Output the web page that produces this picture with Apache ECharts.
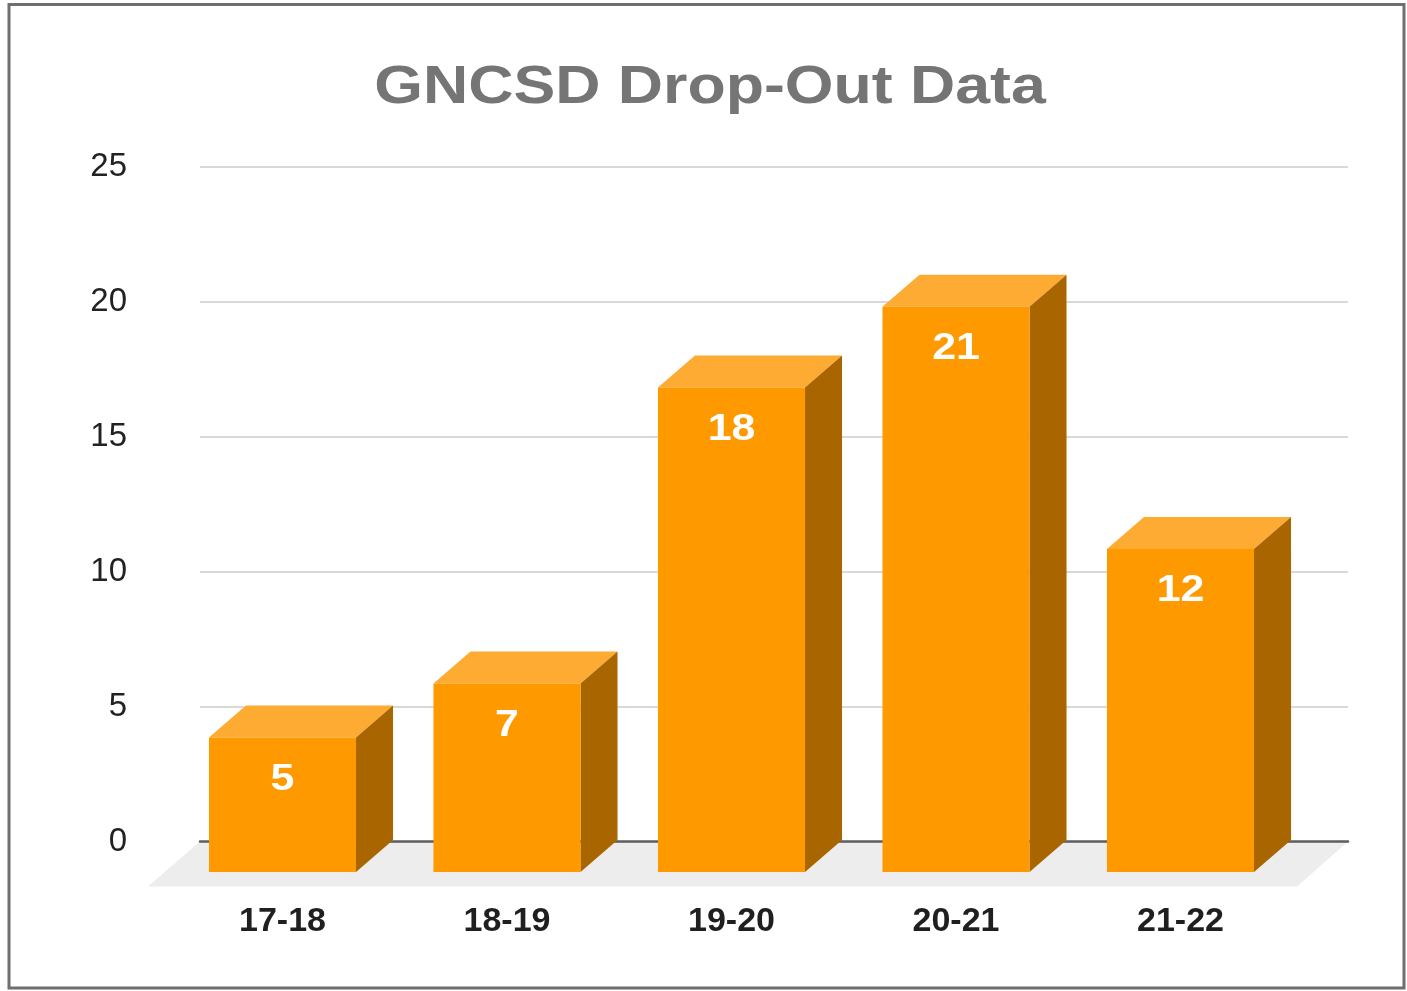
<!DOCTYPE html>
<html>
<head>
<meta charset="utf-8">
<script src="https://cdn.jsdelivr.net/npm/echarts@6/dist/echarts.min.js"></script>
<style>
  html, body { margin: 0; padding: 0; background: #fff; }
  #dropOutChart { width: 1407px; height: 991px; }
</style>
</head>
<body>
<div id="dropOutChart"></div>
<script>
const schoolYears = ['17-18', '18-19', '19-20', '20-21', '21-22'];
const dropOuts = [5, 7, 18, 21, 12];
const yTicks = [0, 5, 10, 15, 20, 25];
const chartTitle = 'GNCSD Drop-Out Data';

// box faces
const frontColor = '#ff9900';
const topColor = '#fdab33';
const sideColor = '#a86500';
const depthX = 37;
const depthY = -32;
// the source image is a bit wider than tall, text included
const stretchX = 1.16;
const fontFamily = '"Liberation Sans", Arial, sans-serif';

const chart = echarts.init(document.getElementById('dropOutChart'));

const renderBox = (params, api) => {
    const idx = api.value(0);
    const val = api.value(1);
    const base = api.coord([idx, 0]);
    const top = api.coord([idx, val]);
    const bw = api.size([1, 0])[0] * 0.655;
    const x0 = top[0] - bw / 2;
    const x1 = top[0] + bw / 2;
    return {
        type: 'group',
        children: [
            {
                type: 'polygon',
                shape: { points: [[x0, top[1]], [x0 + depthX, top[1] + depthY], [x1 + depthX, top[1] + depthY], [x1, top[1]]] },
                style: { fill: topColor }
            },
            {
                type: 'polygon',
                shape: { points: [[x1, top[1]], [x1 + depthX, top[1] + depthY], [x1 + depthX, base[1] + depthY], [x1, base[1]]] },
                style: { fill: sideColor }
            },
            {
                type: 'rect',
                shape: { x: x0, y: top[1], width: bw, height: base[1] - top[1] },
                style: { fill: frontColor }
            },
            {
                type: 'text',
                x: top[0],
                y: top[1] + 42,
                scaleX: stretchX,
                style: {
                    text: String(val),
                    fill: '#ffffff',
                    font: 'bold 37px ' + fontFamily,
                    align: 'center',
                    verticalAlign: 'middle'
                }
            }
        ]
    };
};

const option = {
    animation: false,
    backgroundColor: '#ffffff',
    graphic: [
        {
            type: 'text',
            x: 710,
            y: 88,
            scaleX: stretchX,
            style: {
                text: chartTitle,
                font: 'bold 54px ' + fontFamily,
                fill: '#757575',
                align: 'center',
                verticalAlign: 'middle'
            }
        },
        {
            type: 'rect',
            z: 100,
            shape: { x: 9, y: 4.5, width: 1395, height: 983.5 },
            style: { fill: null, stroke: '#6f6f6f', lineWidth: 3 }
        },
        {
            // floor under the boxes
            type: 'polygon',
            z: -10,
            shape: { points: [[148, 886.5], [200, 841.5], [1348, 841.5], [1297, 886.5]] },
            style: { fill: '#ededed' }
        }
    ],
    grid: [
        // back plane: value scale and gridlines
        { left: 200, right: 59, top: 167, bottom: 149.5 },
        // front plane: boxes and category labels
        { left: 170.25, right: 114.25, top: 199, bottom: 119 }
    ],
    xAxis: [
        {
            gridIndex: 0,
            type: 'category',
            data: schoolYears,
            axisLine: { show: true, lineStyle: { color: '#5f5f5f', width: 2.5 } },
            axisTick: { show: false },
            axisLabel: { show: false },
            z: 1
        },
        {
            gridIndex: 1,
            type: 'category',
            data: schoolYears,
            axisLine: { show: false },
            axisTick: { show: false },
            axisLabel: {
                margin: 33,
                fontFamily: fontFamily,
                fontWeight: 'bold',
                fontSize: 34,
                color: '#1f1f1f'
            }
        }
    ],
    yAxis: [
        {
            gridIndex: 0,
            type: 'value',
            min: yTicks[0],
            max: yTicks[yTicks.length - 1],
            interval: 5,
            axisLine: { show: false },
            axisTick: { show: false },
            axisLabel: {
                margin: 73,
                padding: [10, 0, 0, 0],
                fontFamily: fontFamily,
                fontSize: 33,
                color: '#222222'
            },
            splitLine: { lineStyle: { color: '#d9d9d9', width: 2 } }
        },
        {
            gridIndex: 1,
            type: 'value',
            min: yTicks[0],
            max: yTicks[yTicks.length - 1],
            interval: 5,
            show: false
        }
    ],
    series: [
        {
            type: 'custom',
            xAxisIndex: 1,
            yAxisIndex: 1,
            renderItem: renderBox,
            encode: { x: 0, y: 1 },
            data: dropOuts.map((v, i) => [i, v])
        }
    ]
};

chart.setOption(option);
</script>
</body>
</html>
